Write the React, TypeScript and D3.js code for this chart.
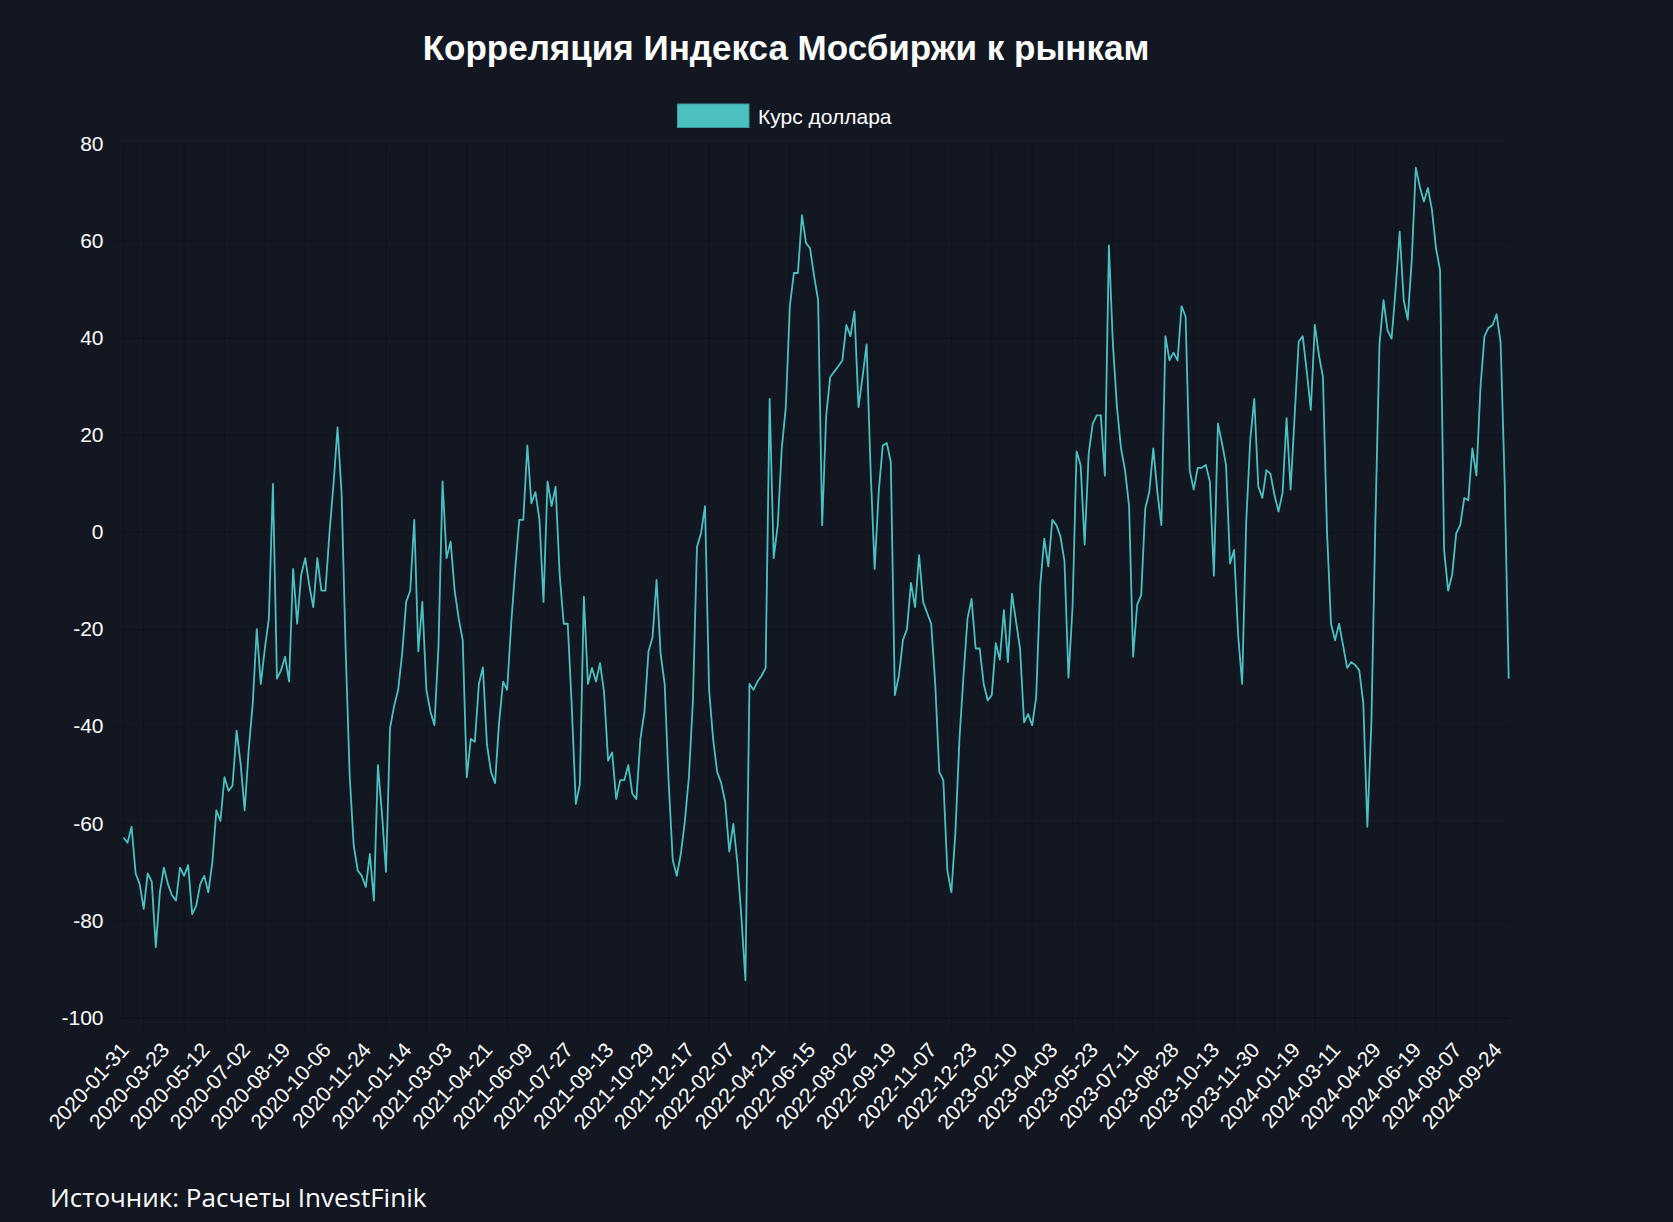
import * as d3 from "d3";
import React, { useEffect, useRef } from "react";

const W = 1673;
const H = 1222;

// Корреляция с курсом доллара, по годам (точка ~ каждые 3-4 торговых дня)
const values2020 = [
  -62.9, -64, -60.7, -70.3, -72.5, -77.6, -70.3, -72, -85.5, -74.2,
  -69.1, -72.5, -74.8, -75.9, -69.1, -70.8, -68.6, -78.7, -77, -72.5,
  -70.8, -74.2, -68, -57.3, -59.5, -50.5, -53.3, -52.2, -40.9, -47.7,
  -57.3, -44.9, -35.3, -20, -31.3, -24, -17.8, 9.9, -30.2, -28.5,
  -25.7, -30.8, -7.6, -18.9, -8.8, -5.4, -11, -15.5, -5.4, -12.1,
  -12.1, -0.3, 9.8, 21.5, 8, -24, -50, -64.5, -69.7, -70.8,
  -73.1, -66.3, -75.9, -48, -58, -70, -40.4,
];
const values2021 = [
  -35.9, -32.5, -25.1, -14.4, -12.1, 2.5, -24.6, -14.4, -32.5, -37,
  -39.8, -23.4, 10.4, -5.4, -2, -12.1, -17.8, -22.3, -50.5, -42.6,
  -43.2, -31.3, -27.9, -43.8, -49.4, -51.7, -39.2, -30.8, -32.5, -18.9,
  -7.6, 2.5, 2.5, 17.8, 5.9, 8.2, 2.5, -14.4, 10.4, 5.3,
  9.3, -8.8, -18.9, -18.9, -35.9, -56, -52, -13.3, -31.3, -28,
  -30.8, -27, -33, -47.1, -45.4, -55, -51.1, -51.1, -48, -53.9,
  -55, -42.6, -37, -24.6, -21.7, -9.9, -25.1, -31.3, -51.7, -67.5,
  -70.8, -66.3, -59.6, -50.5, -34.7, -3.1,
];
const values2022 = [
  -0.3, 5.3, -32.5, -42.6, -49.4, -51.7, -55.6, -65.8, -60.1, -68,
  -79.3, -92.3, -31.3, -32.5, -30.8, -29.6, -28, 27.4, -5.4, 1.4,
  17.2, 25.7, 46.5, 53.3, 53.3, 65.2, 59.5, 58.4, 52.7, 47.7,
  1.4, 24, 31.9, 33, 34.1, 35.3, 42.6, 40.3, 45.4, 25.7,
  31.9, 38.6, 12.7, -7.6, 8.2, 17.8, 18.3, 14.4, -33.6, -29.6,
  -22.3, -20, -10.5, -15.5, -4.8, -14.4, -16.7, -18.9, -31.3, -49.4,
  -51.1, -69.7, -74.2, -61.8, -42.6, -29.6, -17.8, -13.8, -24,
];
const values2023 = [
  -24, -31.3, -34.7, -33.6, -22.9, -26.3, -16.1, -26.8, -12.7, -18.4,
  -24, -39.2, -37.5, -39.8, -34, -11, -1.4, -7.1, 2.5, 1.4,
  -0.9, -6, -30, -15.5, 16.6, 13.8, -2.6, 16.1, 22.3, 24,
  24, 11.6, 59, 38.6, 25.7, 17.2, 12.7, 5.3, -25.7, -15,
  -13, 4.8, 8.2, 17.2, 8.2, 1.4, 40.3, 35.3, 36.9, 35.3,
  46.5, 44.3, 12.7, 8.7, 13.2, 13.2, 13.8, 10.4, -9, 22.3,
  18.3, 13.8, -6.5, -3.7, -21.2, -31.3, 2, 18.9, 27.4, 9.3,
];
const values2024 = [
  7, 12.7, 12, 7.6, 4.2, 8, 23.4, 8.7, 24, 39.2,
  40.3, 33, 25.1, 42.6, 36.4, 31.9, 0.3, -18.9, -22.3, -18.9,
  -23.4, -28, -26.8, -27.4, -28.5, -35.3, -60.7, -39.2, 2.5, 38.6,
  47.7, 41.5, 39.8, 49.9, 61.8, 47.7, 43.7, 56.1, 75, 71,
  68, 70.8, 66.3, 58.4, 53.9, -3.7, -12.1, -8.8, -0.3, 1.4,
  7, 6.5, 17.2, 11.6, 29.6, 40.3, 42, 42.6, 44.8, 39,
  10.4, -30.2,
];

// Подписи оси X (каждая 10-я точка ряда)
const tickLabels = [
  "2020-01-31", "2020-03-23", "2020-05-12", "2020-07-02", "2020-08-19",
  "2020-10-06", "2020-11-24", "2021-01-14", "2021-03-03", "2021-04-21",
  "2021-06-09", "2021-07-27", "2021-09-13", "2021-10-29", "2021-12-17",
  "2022-02-07", "2022-04-21", "2022-06-15", "2022-08-02", "2022-09-19",
  "2022-11-07", "2022-12-23", "2023-02-10", "2023-04-03", "2023-05-23",
  "2023-07-11", "2023-08-28", "2023-10-13", "2023-11-30", "2024-01-19",
  "2024-03-11", "2024-04-29", "2024-06-19", "2024-08-07", "2024-09-24",
];
const labelStep = 10;
const yTicks = [80, 60, 40, 20, 0, -20, -40, -60, -80, -100];

const seriesName = "Курс доллара";
const title = "Корреляция Индекса Мосбиржи к рынкам";
const source = "Источник: Расчеты InvestFinik";

export default function App() {
  const ref = useRef<SVGSVGElement>(null);

  useEffect(() => {
    const data = [...values2020, ...values2021, ...values2022, ...values2023, ...values2024];
    const svg = d3.select(ref.current);
    svg.selectAll("*").remove();

    const area = { left: 123.5, right: 1508.7, top: 143.3, bottom: 1017.7 };
    const font = "'Liberation Sans', Arial, Helvetica, sans-serif";
    const gridColor = "rgba(0,0,0,0.18)";

    svg.append("rect").attr("width", W).attr("height", H).attr("fill", "#121722");

    const x = d3.scaleLinear().domain([0, data.length - 1]).range([area.left, area.right]);
    const y = d3.scaleLinear().domain([-100, 80]).range([area.bottom, area.top]);

    // Горизонтальная сетка + подписи Y
    const yAxis = d3
      .axisLeft(y)
      .tickValues(yTicks)
      .tickSize(-(area.right - area.left) - 8)
      .tickFormat((d) => String(d));
    svg
      .append("g")
      .attr("transform", `translate(${area.left - 8},0)`)
      .call(yAxis)
      .call((g) => g.select(".domain").remove())
      .call((g) => g.selectAll(".tick line").attr("stroke", gridColor).attr("x1", 0).attr("x2", area.right - area.left + 8))
      .call((g) =>
        g
          .selectAll(".tick text")
          .attr("x", -12)
          .attr("fill", "#ffffff")
          .attr("font-family", font)
          .attr("font-size", 21)
      );

    // Вертикальная сетка (между подписями)
    const gridIdx = d3.range(tickLabels.length - 1).map((k) => k * labelStep + labelStep / 2);
    svg
      .append("g")
      .selectAll("line")
      .data(gridIdx)
      .join("line")
      .attr("x1", (d) => x(d))
      .attr("x2", (d) => x(d))
      .attr("y1", area.top)
      .attr("y2", area.bottom + 12)
      .attr("stroke", gridColor);

    // Рамка осей
    svg
      .append("path")
      .attr("d", `M${area.left},${area.top}V${area.bottom}H${area.right}`)
      .attr("fill", "none")
      .attr("stroke", gridColor);

    // Подписи X
    svg
      .append("g")
      .selectAll("text")
      .data(tickLabels)
      .join("text")
      .attr("transform", (_, k) => `translate(${x(k * labelStep) + 1},${area.bottom + 28}) rotate(-48)`)
      .attr("text-anchor", "end")
      .attr("dominant-baseline", "central")
      .attr("fill", "#ffffff")
      .attr("font-family", font)
      .attr("font-size", 21)
      .text((d) => d);

    // Линия ряда
    const line = d3
      .line<number>()
      .x((_, i) => x(i))
      .y((d) => y(d));
    svg
      .append("path")
      .datum(data)
      .attr("d", line)
      .attr("fill", "none")
      .attr("stroke", "#4bc0c0")
      .attr("stroke-width", 1.8)
      .attr("stroke-linejoin", "round");

    // Заголовок
    svg
      .append("text")
      .attr("x", 786)
      .attr("y", 60)
      .attr("text-anchor", "middle")
      .attr("fill", "#ffffff")
      .attr("font-family", font)
      .attr("font-weight", "bold")
      .attr("font-size", 35)
      .text(title);

    // Легенда
    const legend = svg.append("g");
    legend
      .append("rect")
      .attr("x", 677.5)
      .attr("y", 104)
      .attr("width", 71.5)
      .attr("height", 23.5)
      .attr("fill", "#4bc0c0")
      .attr("stroke", "#3a9a9a")
      .attr("stroke-width", 1);
    legend
      .append("text")
      .attr("x", 758)
      .attr("y", 116)
      .attr("dominant-baseline", "central")
      .attr("fill", "#ffffff")
      .attr("font-family", font)
      .attr("font-size", 21)
      .text(seriesName);

    // Источник
    svg
      .append("text")
      .attr("x", 50)
      .attr("y", 1207)
      .attr("fill", "#ffffff")
      .attr("font-family", "'Open Sans', 'Noto Sans', sans-serif")
      .attr("font-size", 26)
      .text(source);
  }, []);

  return (
    <svg
      ref={ref}
      width={W}
      height={H}
      style={{ position: "absolute", left: 0, top: 0, display: "block" }}
    />
  );
}
